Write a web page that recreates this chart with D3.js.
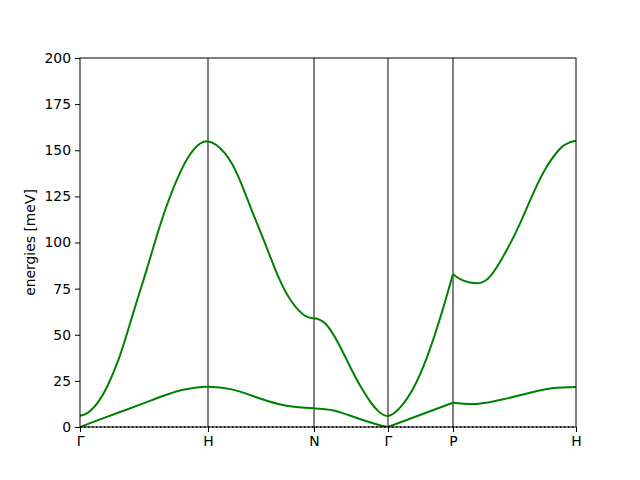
<!DOCTYPE html>
<html>
<head>
<meta charset="utf-8">
<script src="https://cdn.jsdelivr.net/npm/d3@7"></script>
<style>
  body { margin: 0; background: #fff; }
  svg { display: block; }
  text { font-family: "DejaVu Sans", sans-serif; }
</style>
</head>
<body>
<svg id="chart" width="640" height="480"></svg>
<script>
// ---- data ----
const kTicks = [0, 1.0, 1.828, 2.406, 2.914, 3.875];
const tickLabels = ["Γ", "H", "N", "Γ", "P", "H"];
const yTicks = [0, 25, 50, 75, 100, 125, 150, 175, 200];
// k positions where a band has a kink (path is split there)
const kinkUpper = [2.914];
const kinkLower = [2.406, 2.914];
// upper (optical) band [k, energy meV]
const upperBand = [
  [0, 6.1], [0.0625, 7.8], [0.141, 13.5], [0.219, 22.9], [0.297, 35.8], [0.362, 49.5],
  [0.441, 67.5], [0.521, 85.3], [0.612, 106.4], [0.703, 124.8], [0.795, 139.8], [0.885, 150.1], [1.0, 154.8],
  [1.133, 148.3], [1.237, 135.7], [1.341, 117.6], [1.445, 99.6], [1.549, 81.5],
  [1.654, 67.9], [1.758, 60.3], [1.828, 58.9],
  [1.914, 56.2], [2.018, 45.4], [2.123, 30.9], [2.188, 22.5], [2.266, 13.9], [2.330, 8.6], [2.406, 6.0],
  [2.5, 10.5], [2.604, 21], [2.709, 37.5], [2.813, 58.9], [2.914, 82.8],
  [2.995, 79.3], [3.099, 77.9], [3.203, 81.5], [3.334, 95.9], [3.438, 110.4],
  [3.541, 126.6], [3.646, 141], [3.75, 150.8], [3.802, 153.5], [3.841, 154.6], [3.875, 155]
];
// lower (acoustic) band [k, energy meV]
const lowerBand = [
  [0, 0], [0.156, 4.1], [0.313, 8.1], [0.469, 12.1], [0.570, 14.8], [0.664, 17.2],
  [0.781, 19.8], [0.898, 21.3], [1.0, 21.8],
  [1.185, 20.4], [1.367, 16.4], [1.549, 12.5], [1.705, 10.7], [1.828, 10.1],
  [1.966, 9.2], [2.096, 6.5], [2.227, 3.4], [2.357, 0.7], [2.406, 0],
  [2.656, 6.5], [2.914, 13.2],
  [3.099, 12.5], [3.307, 15], [3.516, 18.6], [3.698, 21.1], [3.875, 21.7]
];
const zeroLine = [[0, 0], [3.875, 0]];

// ---- chart ----
const svg = d3.select("#chart");
const margin = { left: 80, right: 64, top: 58, bottom: 53 };
const W = 640, H = 480;
const x = d3.scaleLinear().domain([kTicks[0], kTicks[kTicks.length - 1]])
  .range([margin.left, W - margin.right]);
const y = d3.scaleLinear().domain([0, 200]).range([H - margin.bottom, margin.top]);

const plot = svg.append("g");
const clipId = "clip";
svg.append("clipPath").attr("id", clipId).append("rect")
  .attr("x", x.range()[0]).attr("y", y.range()[1])
  .attr("width", x.range()[1] - x.range()[0]).attr("height", y.range()[0] - y.range()[1]);

// vertical symmetry-point lines
plot.selectAll("line.vl").data(kTicks.slice(1, -1)).enter().append("line")
  .attr("class", "vl")
  .attr("x1", d => x(d)).attr("x2", d => x(d))
  .attr("y1", y(0)).attr("y2", y(200))
  .attr("stroke", "#808080").attr("stroke-width", 2);

const line = d3.line().x(d => x(d[0])).y(d => y(d[1])).curve(d3.curveNatural);

function splitAt(band, kinks) {
  const segs = [];
  let cur = [];
  band.forEach(p => {
    cur.push(p);
    if (kinks.some(k => Math.abs(k - p[0]) < 1e-9)) { segs.push(cur); cur = [p]; }
  });
  if (cur.length > 1) segs.push(cur);
  return segs;
}

const gBands = plot.append("g").attr("clip-path", `url(#${clipId})`);
[[upperBand, kinkUpper], [lowerBand, kinkLower]].forEach(([band, kinks]) => {
  splitAt(band, kinks).forEach(seg => {
    gBands.append("path").attr("d", line(seg))
      .attr("fill", "none").attr("stroke", "#008000").attr("stroke-width", 2)
      .attr("stroke-linejoin", "round");
  });
});

// dotted zero line
plot.append("path").attr("d", d3.line().x(d => x(d[0])).y(d => y(d[1]))(zeroLine))
  .attr("fill", "none").attr("stroke", "#000").attr("stroke-width", 1.5)
  .attr("stroke-dasharray", "1.5,2.5");

// frame
svg.append("rect").attr("x", x.range()[0]).attr("y", y.range()[1])
  .attr("width", x.range()[1] - x.range()[0]).attr("height", y.range()[0] - y.range()[1])
  .attr("fill", "none").attr("stroke", "#000").attr("stroke-width", 1);

// axes
const xAxis = d3.axisBottom(x).tickValues(kTicks).tickFormat((d, i) => tickLabels[i])
  .tickSize(5).tickPadding(4);
const yAxis = d3.axisLeft(y).tickValues(yTicks).tickSize(5).tickPadding(4);

const gx = svg.append("g").attr("transform", `translate(0,${y(0)})`).call(xAxis);
const gy = svg.append("g").attr("transform", `translate(${x.range()[0]},0)`).call(yAxis);
[gx, gy].forEach(g => {
  g.select(".domain").remove();
  g.selectAll("line").attr("stroke", "#000").attr("stroke-width", 1);
  g.selectAll("text").attr("font-size", "13.9px").attr("fill", "#000")
    .attr("font-family", "DejaVu Sans, sans-serif");
});

svg.append("text").attr("transform", `translate(35,${(y(0) + y(200)) / 2}) rotate(-90)`)
  .attr("text-anchor", "middle").attr("font-size", "13.9px").attr("fill", "#000")
  .text("energies [meV]");
</script>
</body>
</html>
